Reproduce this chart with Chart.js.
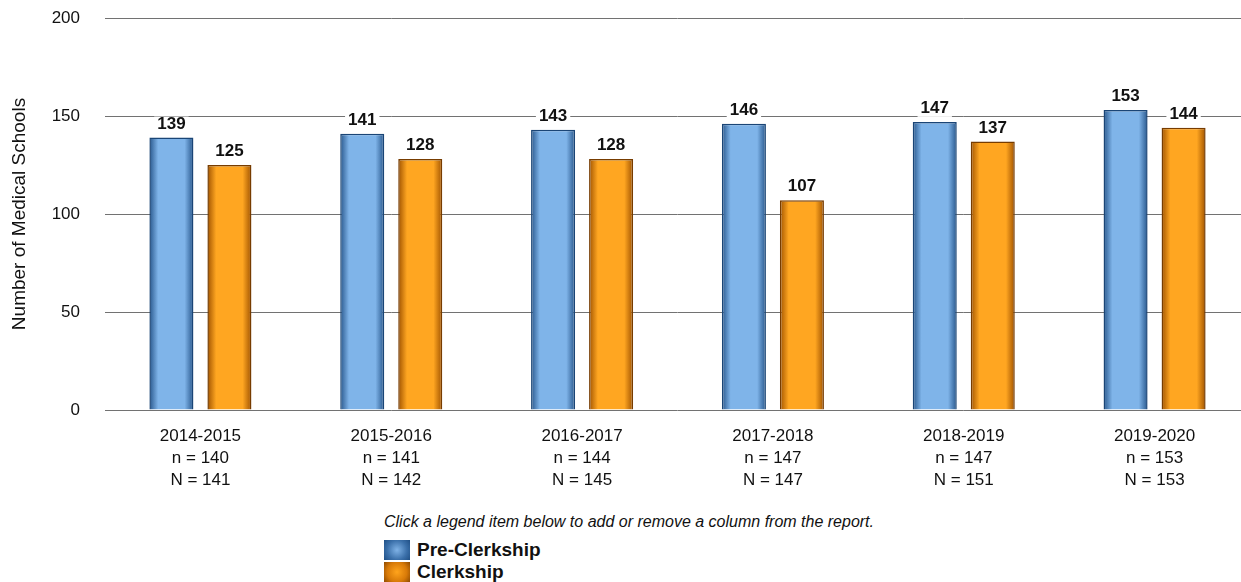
<!DOCTYPE html>
<html><head><meta charset="utf-8">
<script src="https://cdn.jsdelivr.net/npm/chart.js@4"></script>
<style>
html,body{margin:0;padding:0;background:#fff;overflow:hidden;width:1241px;height:582px;font-family:"Liberation Sans",Arial,sans-serif;}
#wrap{position:absolute;left:0;top:0;width:1250px;height:500px;}
#note{position:absolute;left:384px;top:513px;font-style:italic;font-size:16px;color:#111;}
#legend{position:absolute;left:384px;top:539px;}
.item{display:flex;align-items:center;height:22px;cursor:pointer;}
.box{width:26px;height:20px;margin-right:7px;}
.lab{font-weight:bold;font-size:19px;color:#111;}
</style></head><body>
<div id="wrap"><canvas id="c" width="1250" height="500"></canvas></div>
<div id="note">Click a legend item below to add or remove a column from the report.</div>
<div id="legend"></div>
<script>
const years = ["2014-2015","2015-2016","2016-2017","2017-2018","2018-2019","2019-2020"];
const nSmall = [140,141,144,147,147,153];
const nBig = [141,142,145,147,151,153];
const preClerkship = [139,141,143,146,147,153];
const clerkship = [125,128,128,107,137,144];
const yTicks = [0,50,100,150,200];

const FONT = '"Liberation Sans", Arial, sans-serif';
const catPct = 0.608, barPct = 0.759;
const palettes = [
  {edge:"#28578c", mid:"#7fb4e9", border:"#1a4576", legend:"radial-gradient(circle,#7fb2e6 0%,#3b70aa 60%,#1f4f85 100%)"},
  {edge:"#a05300", mid:"#ffa621", border:"#773c00", legend:"radial-gradient(circle,#ffa41c 0%,#d87a08 60%,#8e4a00 100%)"}
];
function grad(ctx){
  const chart = ctx.chart, xs = chart.scales.x;
  const p = palettes[ctx.datasetIndex];
  if(!xs || xs.width === undefined || ctx.dataIndex === undefined) return p.mid;
  const cat = xs.width / years.length;
  const slot = cat * catPct / 2;
  const bw = slot * barPct;
  const c = xs.getPixelForValue(ctx.dataIndex) + (ctx.datasetIndex === 0 ? -slot/2 : slot/2);
  const g = chart.ctx.createLinearGradient(c - bw/2, 0, c + bw/2, 0);
  g.addColorStop(0, p.edge);
  g.addColorStop(0.2, p.mid);
  g.addColorStop(0.8, p.mid);
  g.addColorStop(1, p.edge);
  return g;
}
const valueLabels = {
  id:'valueLabels',
  afterDatasetsDraw(chart){
    const ctx = chart.ctx;
    ctx.save();
    ctx.font = 'bold 17px ' + FONT;
    ctx.textAlign = 'center';
    ctx.textBaseline = 'bottom';
    chart.data.datasets.forEach((ds, di) => {
      const meta = chart.getDatasetMeta(di);
      if (meta.hidden) return;
      meta.data.forEach((bar, i) => {
        const txt = String(ds.data[i]);
        const w = ctx.measureText(txt).width;
        const yb = bar.y - 5;
        ctx.fillStyle = '#fff';
        ctx.fillRect(bar.x - w/2 - 3, yb - 16, w + 6, 16);
        ctx.fillStyle = '#111';
        ctx.fillText(txt, bar.x, yb);
      });
    });
    ctx.restore();
  }
};
const chart = new Chart(document.getElementById('c'), {
  type:'bar',
  data:{
    labels: years.map((y,i)=>[y, "n = " + nSmall[i], "N = " + nBig[i]]),
    datasets:[
      {label:"Pre-Clerkship", data:preClerkship, backgroundColor:grad, borderColor:palettes[0].border, borderWidth:1.5},
      {label:"Clerkship", data:clerkship, backgroundColor:grad, borderColor:palettes[1].border, borderWidth:1.5}
    ]
  },
  options:{
    responsive:false, animation:false,
    layout:{padding:{top:18,left:0,right:0,bottom:0}},
    datasets:{bar:{categoryPercentage:catPct, barPercentage:barPct}},
    plugins:{legend:{display:false}, tooltip:{enabled:false}},
    scales:{
      x:{
        grid:{display:false, drawTicks:false},
        border:{display:false},
        ticks:{color:'#111', padding:15, font:{size:17, family:FONT, lineHeight:1.29}, maxRotation:0, autoSkip:false},
        afterFit(s){ s.height = 90; s.paddingTop = 0; s.paddingBottom = 0; }
      },
      y:{
        min:0, max:200,
        afterBuildTicks(s){ s.ticks = yTicks.map(v=>({value:v})); },
        grid:{color:'#727272', lineWidth:1, drawTicks:false},
        border:{display:false},
        ticks:{color:'#111', padding:25, font:{size:17, family:FONT}},
        title:{display:true, text:'Number of Medical Schools', color:'#111', font:{size:19, family:FONT}, padding:{top:8,bottom:0}},
        afterFit(s){ s.width = 105; s.paddingTop = 0; s.paddingBottom = 0; }
      }
    }
  },
  plugins:[valueLabels]
});
const leg = document.getElementById('legend');
chart.data.datasets.forEach((ds, i) => {
  const it = document.createElement('div'); it.className='item';
  const b = document.createElement('div'); b.className='box'; b.style.background = palettes[i].legend;
  const t = document.createElement('span'); t.className='lab'; t.textContent = ds.label;
  it.appendChild(b); it.appendChild(t);
  it.onclick = () => { chart.setDatasetVisibility(i, !chart.isDatasetVisible(i)); chart.update(); };
  leg.appendChild(it);
});
</script>
</body></html>
